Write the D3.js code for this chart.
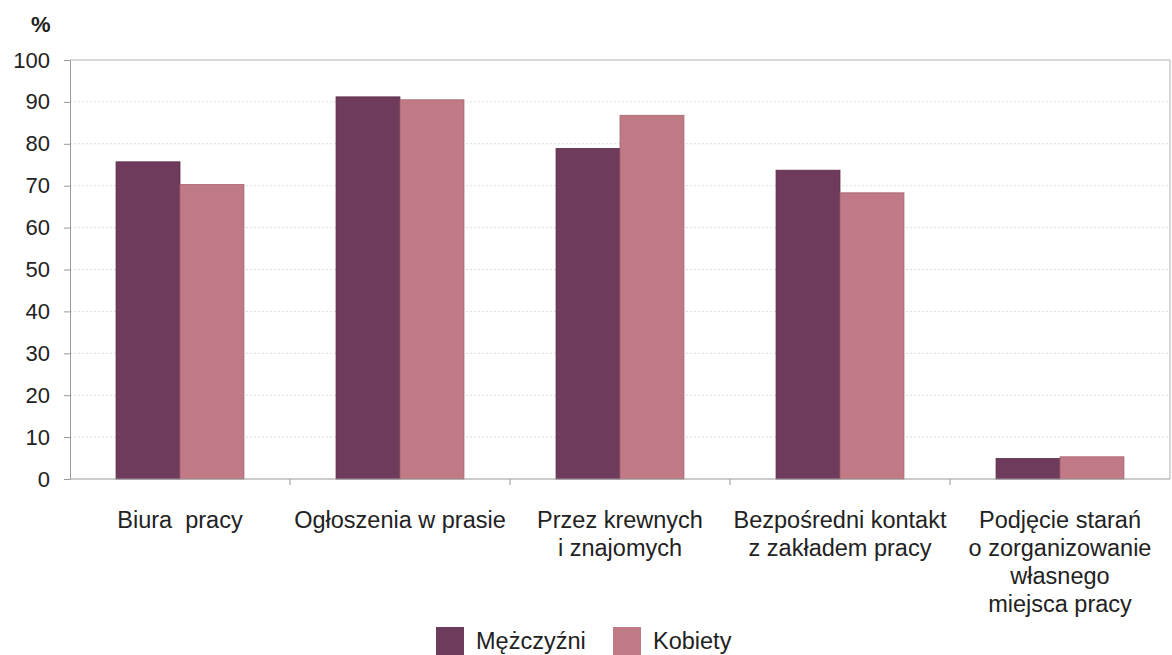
<!DOCTYPE html>
<html>
<head>
<meta charset="utf-8">
<script src="https://cdn.jsdelivr.net/npm/d3@7"></script>
<style>
  body { margin: 0; background: #fff; }
  text { font-family: "Liberation Sans", Arial, sans-serif; fill: #222; }
</style>
</head>
<body>
<div id="chart"></div>
<script>
const categories = [
  ["Biura  pracy"],
  ["Ogłoszenia w prasie"],
  ["Przez krewnych", "i znajomych"],
  ["Bezpośredni kontakt", "z zakładem pracy"],
  ["Podjęcie starań", "o zorganizowanie", "własnego", "miejsca pracy"]
];
const seriesNames = ["Mężczyźni", "Kobiety"];
const men = [75.7, 91.2, 78.9, 73.7, 4.9];
const women = [70.3, 90.5, 86.8, 68.3, 5.3];
const yTicks = [0, 10, 20, 30, 40, 50, 60, 70, 80, 90, 100];

const width = 1172, height = 655;
const margin = { top: 60, right: 2, bottom: 176, left: 70 };
const colors = ["#6f3b5c", "#bf7a85"];

const svg = d3.select("#chart").append("svg")
  .attr("width", width).attr("height", height);

const x0 = d3.scaleBand()
  .domain(d3.range(categories.length))
  .range([margin.left, width - margin.right])
  .padding(0);

const x1 = d3.scaleBand()
  .domain([0, 1])
  .range([0, x0.bandwidth()])
  .paddingInner(0)
  .paddingOuter(0.72);

const y = d3.scaleLinear()
  .domain([0, 100])
  .range([height - margin.bottom, margin.top]);

// grid lines
svg.append("g")
  .selectAll("line")
  .data(yTicks.filter(d => d > 0 && d < 100))
  .join("line")
  .attr("x1", margin.left).attr("x2", width - margin.right)
  .attr("y1", d => y(d)).attr("y2", d => y(d))
  .attr("stroke", "#dcdcdc")
  .attr("stroke-dasharray", "2,2");

// frame top + right
svg.append("line")
  .attr("x1", margin.left).attr("x2", width - margin.right)
  .attr("y1", y(100)).attr("y2", y(100))
  .attr("stroke", "#b0b0b0");
svg.append("line")
  .attr("x1", width - margin.right).attr("x2", width - margin.right)
  .attr("y1", y(100)).attr("y2", y(0))
  .attr("stroke", "#b0b0b0");

// bars
const data = categories.map((c, i) => [men[i], women[i]]);
svg.append("g")
  .selectAll("g")
  .data(data)
  .join("g")
  .attr("transform", (d, i) => `translate(${x0(i)},0)`)
  .selectAll("rect")
  .data(d => d.map((v, k) => ({ k, v })))
  .join("rect")
  .attr("x", d => x1(d.k))
  .attr("y", d => y(d.v))
  .attr("width", x1.bandwidth())
  .attr("height", d => y(0) - y(d.v))
  .attr("fill", d => colors[d.k])
  .attr("stroke", d => d.k === 0 ? "#5a2d49" : "#a8656f")
  .attr("stroke-width", 0.8);

// y axis
const yAxis = svg.append("g")
  .attr("transform", `translate(${margin.left},0)`)
  .call(d3.axisLeft(y).tickValues(yTicks).tickSize(6).tickPadding(14).tickSizeOuter(0));
yAxis.selectAll("line, path").attr("stroke", "#999");
yAxis.selectAll("text").style("font-size", "22px").attr("fill", "#222");

// x axis with ticks between categories
const xAxis = svg.append("g")
  .attr("transform", `translate(0,${y(0)})`);
xAxis.append("line")
  .attr("x1", margin.left).attr("x2", width - margin.right)
  .attr("stroke", "#999");
xAxis.selectAll("line.tick")
  .data(d3.range(1, categories.length))
  .join("line")
  .attr("class", "tick")
  .attr("x1", i => x0(i)).attr("x2", i => x0(i))
  .attr("y1", 0).attr("y2", 6)
  .attr("stroke", "#999");

// category labels
const labels = svg.append("g")
  .selectAll("text")
  .data(categories)
  .join("text")
  .attr("text-anchor", "middle")
  .attr("xml:space", "preserve")
  .style("white-space", "pre")
  .style("font-size", "23.5px")
  .attr("x", (d, i) => x0(i) + x0.bandwidth() / 2)
  .attr("y", 528);
labels.selectAll("tspan")
  .data(d => d)
  .join("tspan")
  .attr("x", function () { return this.parentNode.getAttribute("x"); })
  .attr("dy", (d, i) => i === 0 ? 0 : 28)
  .text(d => d);

// % label
svg.append("text")
  .attr("x", 31).attr("y", 32)
  .style("font-size", "22px")
  .style("font-weight", "bold")
  .text("%");

// legend
const legendPos = [436, 613];
const legend = svg.append("g")
  .selectAll("g")
  .data(seriesNames)
  .join("g")
  .attr("transform", (d, i) => `translate(${legendPos[i]},627)`);
legend.append("rect")
  .attr("width", 28).attr("height", 28)
  .attr("fill", (d, i) => colors[i]);
legend.append("text")
  .attr("x", 40).attr("y", 22)
  .style("font-size", "23.5px")
  .text(d => d);
</script>
</body>
</html>
